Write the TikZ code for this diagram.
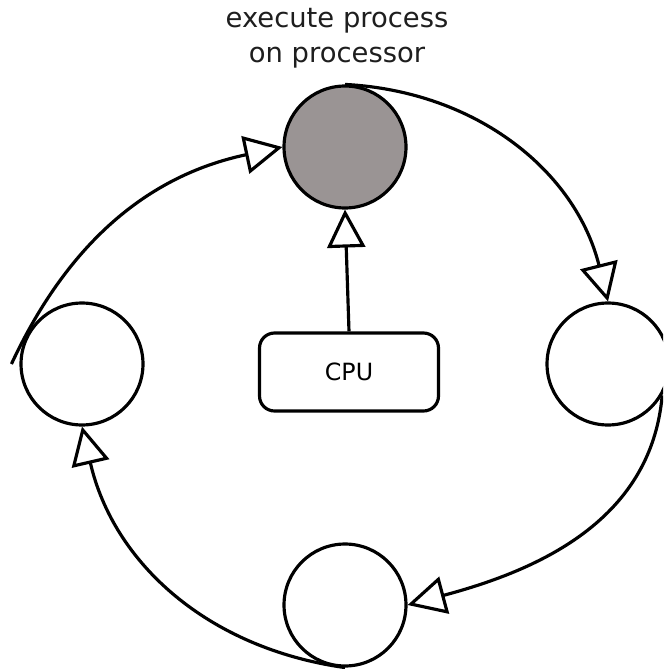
\documentclass[tikz,border=0pt]{standalone}
\usepackage{fontspec}
\setmainfont{DejaVu Sans}
\usetikzlibrary{arrows.meta}
\definecolor{procgray}{RGB}{154,148,148}
\definecolor{inkgray}{RGB}{30,30,30}
\tikzset{
  state/.style={draw,circle,line width=1.8pt,minimum size=2.44cm,inner sep=0pt},
  flow/.style={line width=1.8pt,-{Triangle[open,length=0.76cm,width=0.76cm]}}
}

\begin{document}
\begin{tikzpicture}[x=0.02cm,y=0.02cm]
\useasboundingbox (0,0) rectangle (663,-669);
\clip (0,0) rectangle (663,-669);
% States
\node[state,fill=procgray] (run) at (345,-147) {};
\node[state] (ready) at (608,-364) {};
\node[state] (wait) at (345,-605) {};
\node[state] (idle) at (82,-364) {};
% Label
\node[align=center,text=inkgray,font=\fontsize{15.6}{20}\selectfont] (runlbl) at (337,-38) {execute process\\on processor};
% CPU
\node[draw,rounded corners=0.3cm,line width=1.8pt,minimum width=3.58cm,minimum height=1.56cm,
  font=\fontsize{13.5}{16}\selectfont] (cpu) at (349,-372) {CPU};
\draw[flow] (cpu.north) -- (run.south);
% Cycle
\draw[flow] (run.north) to[out=-3,in=104] (ready.north);
\draw[flow] (ready.-30) to[out=-95,in=15] (wait.east);
\draw[flow] (wait.south) to[out=172,in=-77] (idle.south);
\draw[flow] ([xshift=-0.16cm]idle.west) to[out=65,in=192] (run.west);
\end{tikzpicture}
\end{document}
